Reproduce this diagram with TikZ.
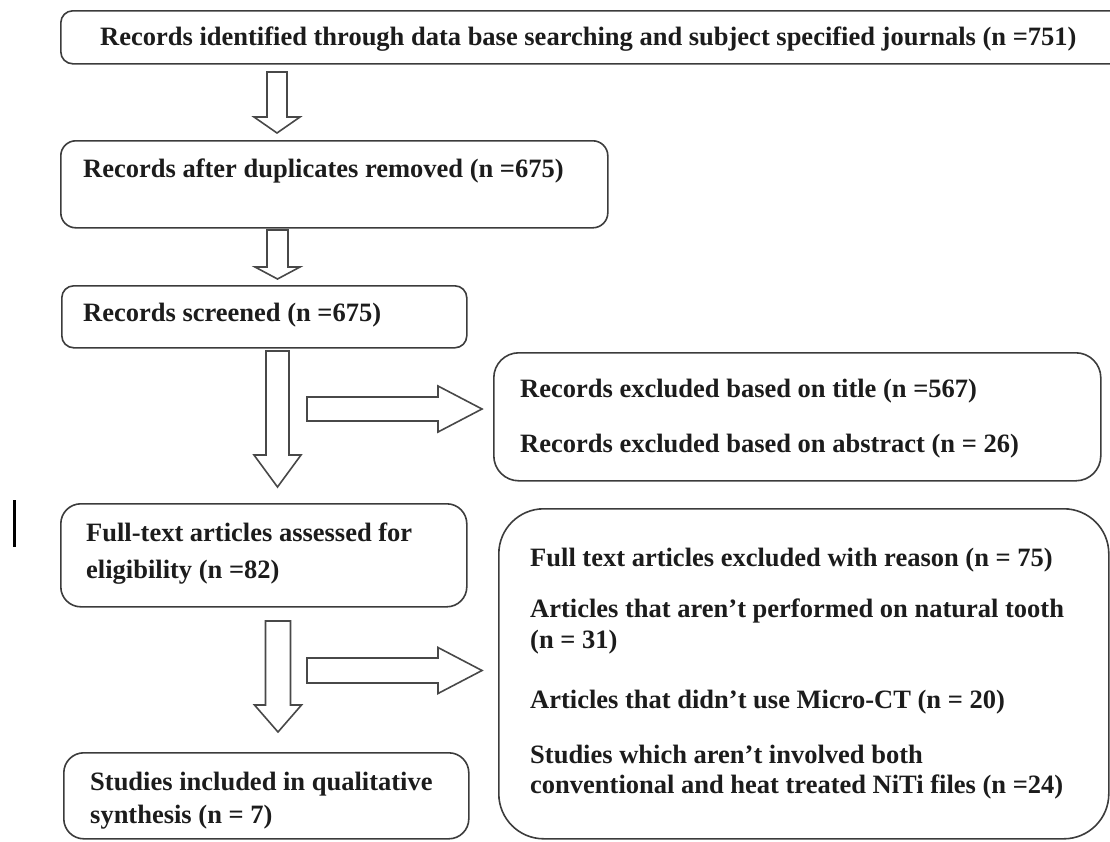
\documentclass[tikz,border=0pt]{standalone}
\usepackage{fontspec}
\setmainfont{Liberation Serif}
\definecolor{boxgray}{HTML}{3C3C3C}
\definecolor{arrgray}{HTML}{484848}
\definecolor{txt}{HTML}{1C1C1C}
\begin{document}
\begin{tikzpicture}[x=1pt,y=-1pt,
  box/.style={draw=boxgray, line width=1.6pt, rounded corners=#1, anchor=north west, inner sep=0pt, fill=white},
  box/.default=12pt,
  lbl/.style={anchor=base west, inner sep=0pt, font=\fontsize{26.5}{30}\selectfont\bfseries, text=txt},
  barrow/.style={draw=arrgray, line width=1.6pt, fill=white, line join=miter},
  pics/darrow/.style n args={4}{code={\draw[barrow] (-#1,0) -- (-#1,#2) -- (-#3,#2) -- (0,#4) -- (#3,#2) -- (#1,#2) -- (#1,0) -- cycle;}},
  pics/rarrow/.style n args={4}{code={\draw[barrow] (0,-#1) -- (#2,-#1) -- (#2,-#3) -- (#4,0) -- (#2,#3) -- (#2,#1) -- (0,#1) -- cycle;}},
]
\useasboundingbox (0,0) rectangle (1110,841);

% boxes
\node[box=12pt, minimum width=1062pt, minimum height=53pt] (b1) at (60,10) {};
\node[box=15pt, minimum width=547pt, minimum height=87pt] (b2) at (60,140) {};
\node[box=12pt, minimum width=405pt, minimum height=62pt] (b3) at (61,285) {};
\node[box=25pt, minimum width=607pt, minimum height=128pt] (b4) at (493,352) {};
\node[box=20pt, minimum width=406pt, minimum height=103pt] (b5) at (60,503) {};
\node[box=45pt, minimum width=610pt, minimum height=330pt] (b6) at (498,508) {};
\node[box=20pt, minimum width=405pt, minimum height=86pt] (b7) at (63,752) {};

% texts
\node[lbl] (t1) at (100,45) {Records identified through data base searching and subject specified journals (n =751)};
\node[lbl] (t2) at (83,177) {Records after duplicates removed (n =675)};
\node[lbl] (t3) at (83,321) {Records screened (n =675)};
\node[lbl] (t4a) at (520,397) {Records excluded based on title (n =567)};
\node[lbl] (t4b) at (520,452) {Records excluded based on abstract (n = 26)};
\node[lbl] (t5a) at (86,541) {Full-text articles assessed for};
\node[lbl] (t5b) at (86,578) {eligibility (n =82)};
\node[lbl] (t6a) at (530,566) {Full text articles excluded with reason (n = 75)};
\node[lbl] (t6b) at (530,617) {Articles that aren’t performed on natural tooth};
\node[lbl] (t6c) at (530,648) {(n = 31)};
\node[lbl] (t6d) at (530,708) {Articles that didn’t use Micro-CT (n = 20)};
\node[lbl] (t6e) at (530,763) {Studies which aren’t involved both};
\node[lbl] (t6f) at (530,793) {conventional and heat treated NiTi files (n =24)};
\node[lbl] (t7a) at (90,790) {Studies included in qualitative};
\node[lbl] (t7b) at (90,823) {synthesis (n = 7)};

% block arrows
\pic at (277,72) {darrow={10}{45}{23}{61}};
\pic at (277.5,230) {darrow={10.5}{37}{22.5}{49}};
\pic at (277.5,351) {darrow={11.5}{104}{23.5}{136}};
\pic at (278,621) {darrow={12.5}{84}{23.5}{111}};
\pic at (307,409) {rarrow={12}{131}{23}{175}};
\pic at (307,670.5) {rarrow={12.5}{131}{23}{175}};

% stray bar
\coordinate (bartop) at (14,500);
\coordinate (barbot) at (14,547);
\draw[line width=3pt, black] (bartop) -- (barbot);
\end{tikzpicture}
\end{document}
